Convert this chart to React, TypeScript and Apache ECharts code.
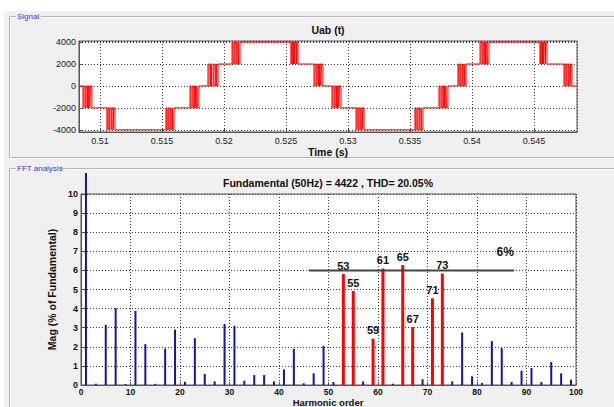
import { useEffect, useRef } from "react";
import * as echarts from "echarts";

// ---------- Signal Uab(t): five-level staircase with PWM switching ----------
const timeStart = 0.50831; // s
const timeEnd = 0.54847; // s
const startLevel = 0; // V
const voltageMin = -4200;
const voltageMax = 4100;

// level before -> level after, for every switching interval
const zoneLevels: [number, number][] = [
  [0, -2000], [-2000, -4000], [-4000, -2000], [-2000, 0],
  [0, 2000], [2000, 4000], [4000, 2000], [2000, 0],
  [0, -2000], [-2000, -4000], [-4000, -2000], [-2000, 0],
  [0, 2000], [2000, 4000], [4000, 2000], [2000, 0],
];

// switching instants (s) inside each interval; they alternate new level / old level
const zoneSwitches: number[][] = [
  [0.50863, 0.50871, 0.50881, 0.50889, 0.509, 0.50907, 0.50918, 0.50923, 0.50935],
  [0.51056, 0.51063, 0.51072, 0.51079, 0.5109, 0.51096, 0.51106, 0.51111, 0.51121],
  [0.51532, 0.51539, 0.51548, 0.51555, 0.51566, 0.51572, 0.51582, 0.51587, 0.51597],
  [0.51726, 0.51734, 0.51744, 0.51752, 0.51763, 0.5177, 0.51781, 0.51786, 0.51798],
  [0.51871, 0.5188, 0.51891, 0.519, 0.51913, 0.5192, 0.51933, 0.51939, 0.51952],
  [0.52065, 0.52072, 0.52081, 0.52088, 0.52098, 0.52104, 0.52114, 0.52119, 0.52129],
  [0.5254, 0.52546, 0.52554, 0.52561, 0.5257, 0.52575, 0.52584, 0.52588, 0.52597],
  [0.52726, 0.52734, 0.52744, 0.52752, 0.52763, 0.5277, 0.52781, 0.52786, 0.52798],
  [0.52871, 0.52879, 0.52889, 0.52897, 0.52908, 0.52915, 0.52926, 0.52931, 0.52944],
  [0.53065, 0.53072, 0.53081, 0.53088, 0.53098, 0.53104, 0.53114, 0.53119, 0.53129],
  [0.5354, 0.53547, 0.53556, 0.53563, 0.53574, 0.5358, 0.5359, 0.53595, 0.53605],
  [0.53734, 0.53742, 0.53752, 0.5376, 0.53771, 0.53778, 0.53789, 0.53794, 0.53806],
  [0.53887, 0.53894, 0.53903, 0.5391, 0.53921, 0.53927, 0.53937, 0.53942, 0.53952],
  [0.54065, 0.54073, 0.54083, 0.54091, 0.54102, 0.54109, 0.5412, 0.54125, 0.54137],
  [0.54548, 0.54554, 0.54562, 0.54569, 0.54578, 0.54583, 0.54592, 0.54596, 0.54605],
  [0.54742, 0.54749, 0.54758, 0.54765, 0.54775, 0.54781, 0.54791, 0.54796, 0.54806],
];

// ---------- FFT analysis ----------
const fundamentalOrder = 1;
const fundamentalMag = 100; // % of fundamental
const harmonicOrders = [
  3, 5, 7, 9, 11, 13, 15, 17, 19, 21, 23, 25, 27, 29, 31, 33, 35, 37, 39, 41, 43, 45, 47, 49,
  51, 53, 55, 57, 59, 61, 63, 65, 67, 69, 71, 73, 75, 77, 79, 81, 83, 85, 87, 89, 91, 93, 95,
  97, 99,
];
const harmonicMags = [
  0.07, 3.15, 4.02, 0.05, 3.88, 2.14, 0.06, 1.91, 2.9, 0.17, 2.45, 0.57, 0.19, 3.2, 3.1, 0.23,
  0.52, 0.52, 0.19, 0.82, 1.9, 0.09, 0.61, 2.05, 0.16, 5.81, 4.92, 0.19, 2.42, 6.1, 0.07, 6.28,
  3.03, 0.3, 4.54, 5.83, 0.19, 2.75, 0.45, 0.1, 2.3, 1.93, 0.16, 0.75, 0.89, 0.16, 1.2, 0.61,
  0.28,
];
const highlightedOrders = [53, 55, 59, 61, 65, 67, 71, 73];
const thresholdLevel = 6; // %
const thresholdFrom = 46;
const thresholdTo = 87.5;

const fftTitle = "Fundamental (50Hz) = 4422 , THD= 20.05%";
const FONT = '"Liberation Sans", Arial, Helvetica, sans-serif';
const BG = "#f0f0f0";
const BLUE = "#15159a";
const RED = "#ff0000";

function buildSignal(): [number, number][] {
  const pts: [number, number][] = [[timeStart, startLevel]];
  let level = startLevel;
  zoneSwitches.forEach((times, i) => {
    const [from, to] = zoneLevels[i];
    times.forEach((t, k) => {
      level = k % 2 === 0 ? to : from;
      pts.push([t, level]);
    });
  });
  pts.push([timeEnd, level]);
  return pts;
}

const gridLine = { show: true, lineStyle: { color: "#3a3a3a", type: [1, 2] as number[], width: 1 } };
const axisLine = { show: true, onZero: false, lineStyle: { color: "#555", width: 1 } };
const tick = { show: true, inside: true, length: 3, lineStyle: { color: "#555" } };

function buildOption() {
  const blueBars = harmonicOrders
    .map((h, i) => [h, harmonicMags[i]])
    .filter(([h]) => !highlightedOrders.includes(h));
  const redBars = harmonicOrders
    .map((h, i) => [h, harmonicMags[i]])
    .filter(([h]) => highlightedOrders.includes(h));

  const tickLabel = { fontFamily: FONT, fontSize: 9, color: "#222" };
  const fftTickLabel = { fontFamily: FONT, fontSize: 9, color: "#111", fontWeight: "bold" as const };
  const axisName = { fontFamily: FONT, fontSize: 10.5, fontWeight: "bold" as const, color: "#111" };

  return {
    animation: false,
    backgroundColor: BG,
    textStyle: { fontFamily: FONT },
    graphic: [
      { type: "rect", silent: true, shape: { x: 0, y: 0, width: 614, height: 11 }, style: { fill: "#fff" } },
      { type: "rect", silent: true, shape: { x: 0, y: 0, width: 4, height: 407 }, style: { fill: "#fff" } },
      // "Signal" panel frame
      { type: "rect", silent: true, shape: { x: 9.5, y: 16.5, width: 640, height: 141 }, style: { fill: "none", stroke: "#b4b4b4", lineWidth: 1 } },
      { type: "rect", silent: true, shape: { x: 10.5, y: 17.5, width: 640, height: 141 }, style: { fill: "none", stroke: "#ffffff", lineWidth: 1 } },
      { type: "rect", silent: true, shape: { x: 16, y: 12, width: 25, height: 9 }, style: { fill: BG } },
      { type: "text", silent: true, x: 17, y: 16.5, style: { text: "Signal", fill: "#3c3cc8", fontSize: 8, fontFamily: FONT, verticalAlign: "middle" } },
      // "FFT analysis" panel frame
      { type: "rect", silent: true, shape: { x: 9.5, y: 168.5, width: 640, height: 300 }, style: { fill: "none", stroke: "#b4b4b4", lineWidth: 1 } },
      { type: "rect", silent: true, shape: { x: 10.5, y: 169.5, width: 640, height: 300 }, style: { fill: "none", stroke: "#ffffff", lineWidth: 1 } },
      { type: "rect", silent: true, shape: { x: 16, y: 164, width: 44, height: 9 }, style: { fill: BG } },
      { type: "text", silent: true, x: 17, y: 168.5, style: { text: "FFT analysis", fill: "#3c3cc8", fontSize: 8, fontFamily: FONT, verticalAlign: "middle" } },
      // plot titles
      { type: "text", silent: true, x: 328, y: 30, style: { text: "Uab (t)", align: "center", verticalAlign: "middle", fill: "#111", fontSize: 10.5, fontWeight: "bold", fontFamily: FONT } },
      { type: "text", silent: true, x: 328, y: 183, style: { text: fftTitle, align: "center", verticalAlign: "middle", fill: "#111", fontSize: 10.5, fontWeight: "bold", fontFamily: FONT } },
      // harmonic axis title, kept inside the bottom edge of the panel
      { type: "text", silent: true, x: 328, y: 407, style: { text: "Harmonic order", align: "center", verticalAlign: "bottom", fill: "#111", fontSize: 9.5, fontWeight: "bold", fontFamily: FONT } },
    ],
    grid: [
      { left: 79, right: 37, top: 41, bottom: 275, outerBoundsMode: "none", show: true, backgroundColor: "#fff", borderColor: "#555", borderWidth: 1 },
      { left: 81, right: 38, top: 194, bottom: 22, outerBoundsMode: "none", show: true, backgroundColor: "#fff", borderColor: "#555", borderWidth: 1 },
      { left: 81, right: 38, top: 173, bottom: 22, outerBoundsMode: "none", show: false },
    ],
    xAxis: [
      {
        gridIndex: 0, type: "value", min: timeStart, max: timeEnd, splitNumber: 8,
        name: "Time (s)", nameLocation: "middle", nameGap: 14, nameTextStyle: axisName,
        axisLine, axisTick: tick, splitLine: gridLine,
        axisLabel: { ...tickLabel, margin: 4, showMinLabel: false, showMaxLabel: false, formatter: (v: number) => String(Number(v.toFixed(3))) },
      },
      {
        gridIndex: 1, type: "value", min: 0, max: 100, interval: 10,
        axisLine, axisTick: tick, splitLine: gridLine,
        axisLabel: { ...fftTickLabel, fontSize: 8.5, margin: 2 },
      },
      { gridIndex: 1, type: "value", min: 0, max: 100, show: false },
      { gridIndex: 2, type: "value", min: 0, max: 100, show: false },
    ],
    yAxis: [
      {
        gridIndex: 0, type: "value", min: voltageMin, max: voltageMax, splitNumber: 4,
        axisLine, axisTick: tick, splitLine: gridLine,
        axisLabel: { ...tickLabel, margin: 3, showMinLabel: false, showMaxLabel: false, formatter: (v: number) => String(v) },
      },
      {
        gridIndex: 1, type: "value", min: 0, max: 10, interval: 1,
        name: "Mag (% of Fundamental)", nameLocation: "middle", nameGap: 17, nameTextStyle: axisName,
        axisLine, axisTick: tick, splitLine: gridLine,
        axisLabel: { ...fftTickLabel, margin: 3 },
      },
      { gridIndex: 1, type: "value", min: 0, max: 10, show: false },
      { gridIndex: 2, type: "value", min: 0, max: 11.1, show: false },
    ],
    series: [
      {
        type: "line", xAxisIndex: 0, yAxisIndex: 0, data: buildSignal(), step: "end",
        symbol: "none", lineStyle: { color: RED, width: 1 }, z: 3,
      },
      {
        type: "bar", xAxisIndex: 1, yAxisIndex: 1, data: blueBars, barWidth: 2,
        itemStyle: { color: BLUE },
      },
      {
        type: "bar", xAxisIndex: 2, yAxisIndex: 2, data: redBars, barWidth: 3,
        itemStyle: { color: RED },
        label: {
          show: true, position: "top", distance: 3, fontFamily: FONT, fontSize: 11,
          fontWeight: "bold", color: "#111",
          formatter: (p: any) => String(p.value[0]),
        },
      },
      {
        type: "bar", xAxisIndex: 3, yAxisIndex: 3, data: [[fundamentalOrder, fundamentalMag]],
        barWidth: 2, itemStyle: { color: BLUE },
      },
      {
        type: "line", xAxisIndex: 1, yAxisIndex: 1, symbol: "circle", symbolSize: 0,
        showSymbol: true, lineStyle: { color: "#444", width: 2 }, z: 4,
        label: { show: false },
        data: [
          [thresholdFrom, thresholdLevel],
          {
            value: [thresholdTo, thresholdLevel],
            label: {
              show: true, position: "top", offset: [-9, -7], fontFamily: FONT, fontSize: 12,
              fontWeight: "bold", color: "#111", formatter: `${thresholdLevel}%`,
            },
          },
        ],
      },
    ],
  };
}

export default function App() {
  const ref = useRef<HTMLDivElement>(null);
  useEffect(() => {
    if (!ref.current) return;
    const chart = echarts.init(ref.current, undefined, { renderer: "svg", width: 614, height: 407 });
    chart.setOption(buildOption() as any);
    return () => chart.dispose();
  }, []);
  return (
    <div
      ref={ref}
      style={{ position: "fixed", left: 0, top: 0, width: 614, height: 407 }}
    />
  );
}
